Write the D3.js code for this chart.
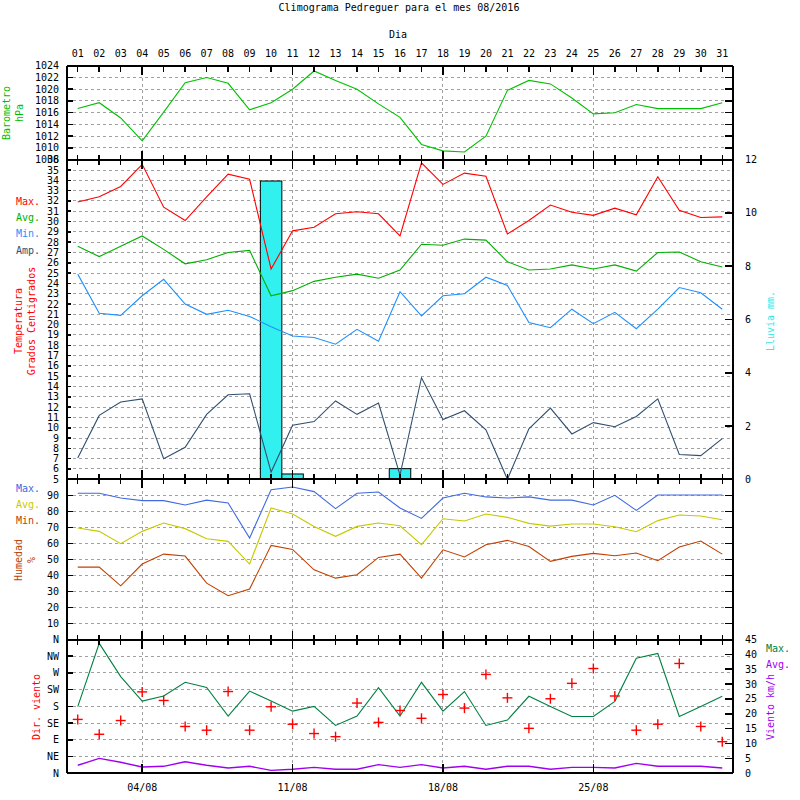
<!DOCTYPE html>
<html><head><meta charset="utf-8">
<script src="https://cdn.jsdelivr.net/npm/d3@7"></script>
<style>body{margin:0;background:#fff}svg{display:block}text{font-family:"DejaVu Sans Mono",monospace;font-size:10px}</style>
</head><body><svg id="c" width="800" height="800"></svg>
<script>
const dayLabels = ["01","02","03","04","05","06","07","08","09","10","11","12","13","14","15","16","17","18","19","20","21","22","23","24","25","26","27","28","29","30","31"];
const weekDays = [4,11,18,25];
const weekLabels = ["04/08","11/08","18/08","25/08"];
const baro = [1016.7,1017.7,1015.1,1011.2,1016.1,1021.1,1022.0,1021.0,1016.5,1017.7,1020.0,1023.1,1021.5,1020.0,1017.5,1015.2,1010.6,1009.5,1009.3,1012.0,1019.8,1021.5,1020.9,1018.5,1015.8,1016.0,1017.4,1016.7,1016.7,1016.7,1017.7];
const tMax = [31.9,32.4,33.4,35.55,31.4,30.1,32.4,34.6,34.1,25.4,29.1,29.45,30.75,30.95,30.75,28.6,35.7,33.6,34.7,34.4,28.8,30.1,31.6,30.9,30.6,31.3,30.65,34.35,31.1,30.4,30.45];
const tAvg = [27.6,26.6,27.6,28.6,27.3,25.9,26.3,27.0,27.2,22.8,23.3,24.2,24.6,24.9,24.5,25.3,27.8,27.7,28.3,28.2,26.1,25.3,25.4,25.8,25.4,25.8,25.2,27.0,27.05,26.1,25.6];
const tMin = [24.9,21.1,20.9,22.8,24.4,22.0,21.0,21.4,20.8,19.8,18.9,18.75,18.1,19.55,18.4,23.2,20.85,22.8,23.0,24.6,23.8,20.2,19.7,21.5,20.1,21.2,19.6,21.5,23.6,23.1,21.5];
const tAmp = [7.07,11.2,12.5,12.8,7.0,8.1,11.3,13.2,13.3,5.7,10.25,10.6,12.6,11.3,12.4,5.4,14.85,10.8,11.65,9.8,5.0,9.9,11.9,9.4,10.5,10.1,11.1,12.8,7.4,7.3,8.95];
const rain = [0,0,0,0,0,0,0,0,0,11.2,0.2,0,0,0,0,0.4,0,0,0,0,0,0,0,0,0,0,0,0,0,0,0];
const hMax = [91.25,91.25,88.3,86.7,86.7,84,87,85.2,63.3,93.5,95.2,92.3,81.7,91.25,92.1,82.1,75.6,88.3,91.25,89,88.3,89,87,87,84,90,80.6,90.2,90.2,90.2,90.2];
const hAvg = [69.6,67.5,59.8,67.5,72.7,69.2,62.9,61.25,47.1,82.1,78.3,70.6,64.4,70.6,72.7,71,59.2,75.4,74,78.3,76.25,72.5,70.8,72.1,72.1,70.4,67.3,74.2,77.7,77.1,74.8];
const hMin = [45.2,45.2,33.5,47.1,53.3,52.1,35.2,27.3,31.5,58.75,56.25,43.5,38.3,40.4,51.25,53.3,38.3,56,51.5,59.2,61.9,58.1,48.75,51.9,53.75,52.3,54,49.2,57.7,61.5,53.3];
const wMax = [22.4,43.7,32.5,24.3,26.0,30.6,28.9,19.25,27.65,24.3,20.9,22.5,16.1,19.25,28.8,19.25,30.6,20.9,27.5,16.1,17.9,25.9,22.5,19.1,19.1,24.2,38.7,40.3,19.1,22.5,25.9];
const wAvg = [2.7,5.0,3.7,2.1,2.35,3.9,2.7,1.8,2.35,1.0,1.35,2.0,1.35,1.35,2.9,2.0,2.9,1.8,2.35,1.35,2.35,2.35,1.35,2.0,2.0,1.8,3.35,2.35,2.35,2.35,1.8];
const wDir = [145,105,142,219,196,126,116,220,116,179,132,107,98.5,189,137,169,148,212,175.5,266,203,121,200.6,242,282,208,116,132,295.5,126,85];
const baroTicks = [1008,1010,1012,1014,1016,1018,1020,1022,1024];
const tempTicks = [5,6,7,8,9,10,11,12,13,14,15,16,17,18,19,20,21,22,23,24,25,26,27,28,29,30,31,32,33,34,35,36];
const rainTicks = [0,2,4,6,8,10,12];
const humTicks = [10,20,30,40,50,60,70,80,90];
const dirTicks = [0,45,90,135,180,225,270,315,360];
const dirLabels = ["N","NE","E","SE","S","SW","W","NW","N"];
const speedTicks = [0,5,10,15,20,25,30,35,40,45];

const svg = d3.select("#c");
const L = 67, R = 733;
const yB = [65.7,159.7], yT = [159.7,479.3], yH = [479.3,639.5], yW = [639.5,773.3];
const x = d3.scaleLinear().domain([0.5,31.5]).range([L,R]);
const sBaro = d3.scaleLinear().domain([1008,1024]).range([yB[1],yB[0]]);
const sTemp = d3.scaleLinear().domain([5,36]).range([yT[1],yT[0]]);
const sRain = d3.scaleLinear().domain([0,12]).range([yT[1],yT[0]]);
const sHum = d3.scaleLinear().domain([0,100]).range([yH[1],yH[0]]);
const sDir = d3.scaleLinear().domain([0,360]).range([yW[1],yW[0]]);
const sSpd = d3.scaleLinear().domain([0,45]).range([yW[1],yW[0]]);
const days = dayLabels.map((d,i)=>i+1);
const GRID = "#a0a0a0";

const gGrid = svg.append("g").attr("shape-rendering","crispEdges");
function hgrid(scale, vals){
  gGrid.selectAll(null).data(vals).enter().append("line")
    .attr("x1",L).attr("x2",R).attr("y1",d=>scale(d)).attr("y2",d=>scale(d))
    .attr("stroke",GRID).attr("stroke-dasharray","3,3");
}
function vgrid(range){
  gGrid.selectAll(null).data(weekDays).enter().append("line")
    .attr("x1",d=>x(d)).attr("x2",d=>x(d)).attr("y1",range[0]).attr("y2",range[1])
    .attr("stroke",GRID).attr("stroke-dasharray","3,3");
}
hgrid(sBaro,[1010,1012,1014,1016,1018,1020,1022]);
hgrid(sTemp,tempTicks.filter(d=>d>5&&d<36));
hgrid(sHum,humTicks);
hgrid(sDir,dirTicks.filter(d=>d>0&&d<360));
[yB,yT,yH,yW].forEach(vgrid);

// rain bars
svg.append("g").selectAll("rect").data(days.filter(d=>rain[d-1]>0)).enter().append("rect")
  .attr("x",d=>x(d-0.5)).attr("width",x(1.5)-x(0.5))
  .attr("y",d=>sRain(rain[d-1])).attr("height",d=>sRain(0)-sRain(rain[d-1]))
  .attr("fill","#33f0f0").attr("stroke","#000").attr("stroke-width",1);

function line(scale, data, color, w){
  svg.append("path").datum(data)
    .attr("d", d3.line().x((v,i)=>x(i+1)).y(v=>scale(v)))
    .attr("fill","none").attr("stroke",color).attr("stroke-width",w||1.1);
}
line(sBaro,baro,"#00c000");
line(sTemp,tMax,"#ff0000");
line(sTemp,tAvg,"#00b000");
line(sTemp,tMin,"#1e90ff");
line(sTemp,tAmp,"#2f4f6f");
line(sHum,hMax,"#4169e1");
line(sHum,hAvg,"#c8c800");
line(sHum,hMin,"#c04000");
line(sSpd,wMax,"#008040");
line(sSpd,wAvg,"#a000f0",1.4);

// direction crosses
const cr = svg.append("g").attr("stroke","#ff0000").attr("stroke-width",1.4);
wDir.forEach((v,i)=>{
  const cx = x(i+1), cy = sDir(v);
  cr.append("line").attr("x1",cx-5).attr("x2",cx+5).attr("y1",cy).attr("y2",cy);
  cr.append("line").attr("x1",cx).attr("x2",cx).attr("y1",cy-5).attr("y2",cy+5);
});

// frame & ticks
const ax = svg.append("g").attr("stroke","#000").attr("shape-rendering","crispEdges");
[yB[0],yB[1],yT[1],yH[1],yW[1]].forEach(y=>{
  ax.append("line").attr("x1",L).attr("x2",R).attr("y1",y).attr("y2",y).attr("stroke-width",2);
});
ax.append("line").attr("x1",L).attr("x2",L).attr("y1",yB[0]).attr("y2",yW[1]).attr("stroke-width",2);
ax.append("line").attr("x1",R).attr("x2",R).attr("y1",yB[0]).attr("y2",yW[1]).attr("stroke-width",2);
days.forEach(d=>{
  const major = weekDays.includes(d);
  ax.append("line").attr("x1",x(d)).attr("x2",x(d)).attr("y1",yB[0]).attr("y2",yB[0]+(major?9:6)).attr("stroke-width",1.5);
  [yB[1],yT[1],yH[1]].forEach(y=>{
    const h = major?9:5;
    ax.append("line").attr("x1",x(d)).attr("x2",x(d)).attr("y1",y-h).attr("y2",y+h).attr("stroke-width",1.5);
  });
  if(major) ax.append("line").attr("x1",x(d)).attr("x2",x(d)).attr("y1",yW[1]-9).attr("y2",yW[1]).attr("stroke-width",1.5);
});
function yticks(scale, vals, side, len){
  vals.forEach(v=>{
    const y = scale(v);
    if(side==="L") ax.append("line").attr("x1",L).attr("x2",L+len).attr("y1",y).attr("y2",y).attr("stroke-width",1.5);
    else ax.append("line").attr("x1",R-len).attr("x2",R).attr("y1",y).attr("y2",y).attr("stroke-width",1.5);
  });
}
yticks(sBaro,baroTicks,"L",6); yticks(sBaro,baroTicks,"R",8);
yticks(sTemp,tempTicks,"L",4); yticks(sRain,rainTicks,"R",8);
yticks(sHum,humTicks,"L",6); yticks(sHum,humTicks,"R",8);
yticks(sDir,dirTicks,"L",6); yticks(sSpd,speedTicks,"R",8);

// text
function txt(s,xx,yy,anchor,color){
  return svg.append("text").attr("x",xx).attr("y",yy).attr("text-anchor",anchor||"middle")
    .attr("dominant-baseline","central").attr("fill",color||"#000").text(s);
}
function vtxt(s,xx,yy,color){
  return svg.append("text").attr("transform",`translate(${xx},${yy}) rotate(-90)`)
    .attr("text-anchor","middle").attr("dominant-baseline","central").attr("fill",color).text(s);
}
txt("Climograma Pedreguer para el mes 08/2016",399,7);
txt("Dia",398,34);
dayLabels.forEach((s,i)=>txt(s,x(i+1),53));
weekDays.forEach((d,i)=>txt(weekLabels[i],x(d),787));
baroTicks.forEach(v=>txt(String(v),59,sBaro(v),"end"));
tempTicks.forEach(v=>txt(String(v),59,sTemp(v),"end"));
rainTicks.forEach(v=>txt(String(v),745,sRain(v),"start"));
humTicks.forEach(v=>txt(String(v),59,sHum(v),"end"));
dirTicks.forEach((v,i)=>txt(dirLabels[i],59,sDir(v),"end"));
speedTicks.forEach(v=>txt(String(v),745,sSpd(v),"start"));

vtxt("Barometro",6,113,"#00c000");
vtxt("hPa",19,113,"#00c000");
txt("Max.",16,201.5,"start","#ff0000");
txt("Avg.",16,217.5,"start","#00b000");
txt("Min.",16,233.5,"start","#1e90ff");
txt("Amp.",16,250,"start","#2f4f6f");
vtxt("Temperatura",18,321,"#ff0000");
vtxt("Grados Centigrados",31,321,"#ff0000");
vtxt("Lluvia mm.",770,321,"#33e8e8");
txt("Max.",16,488,"start","#4169e1");
txt("Avg.",16,504,"start","#c8c800");
txt("Min.",16,520,"start","#c04000");
vtxt("Humedad",18,560,"#c04000");
vtxt("%",31,560,"#c04000");
vtxt("Dir. viento",36,707,"#ff0000");
txt("Max.",766,648,"start","#008040");
txt("Avg.",766,664,"start","#a000f0");
vtxt("Viento km/h",770,707,"#a000f0");
</script></body></html>
